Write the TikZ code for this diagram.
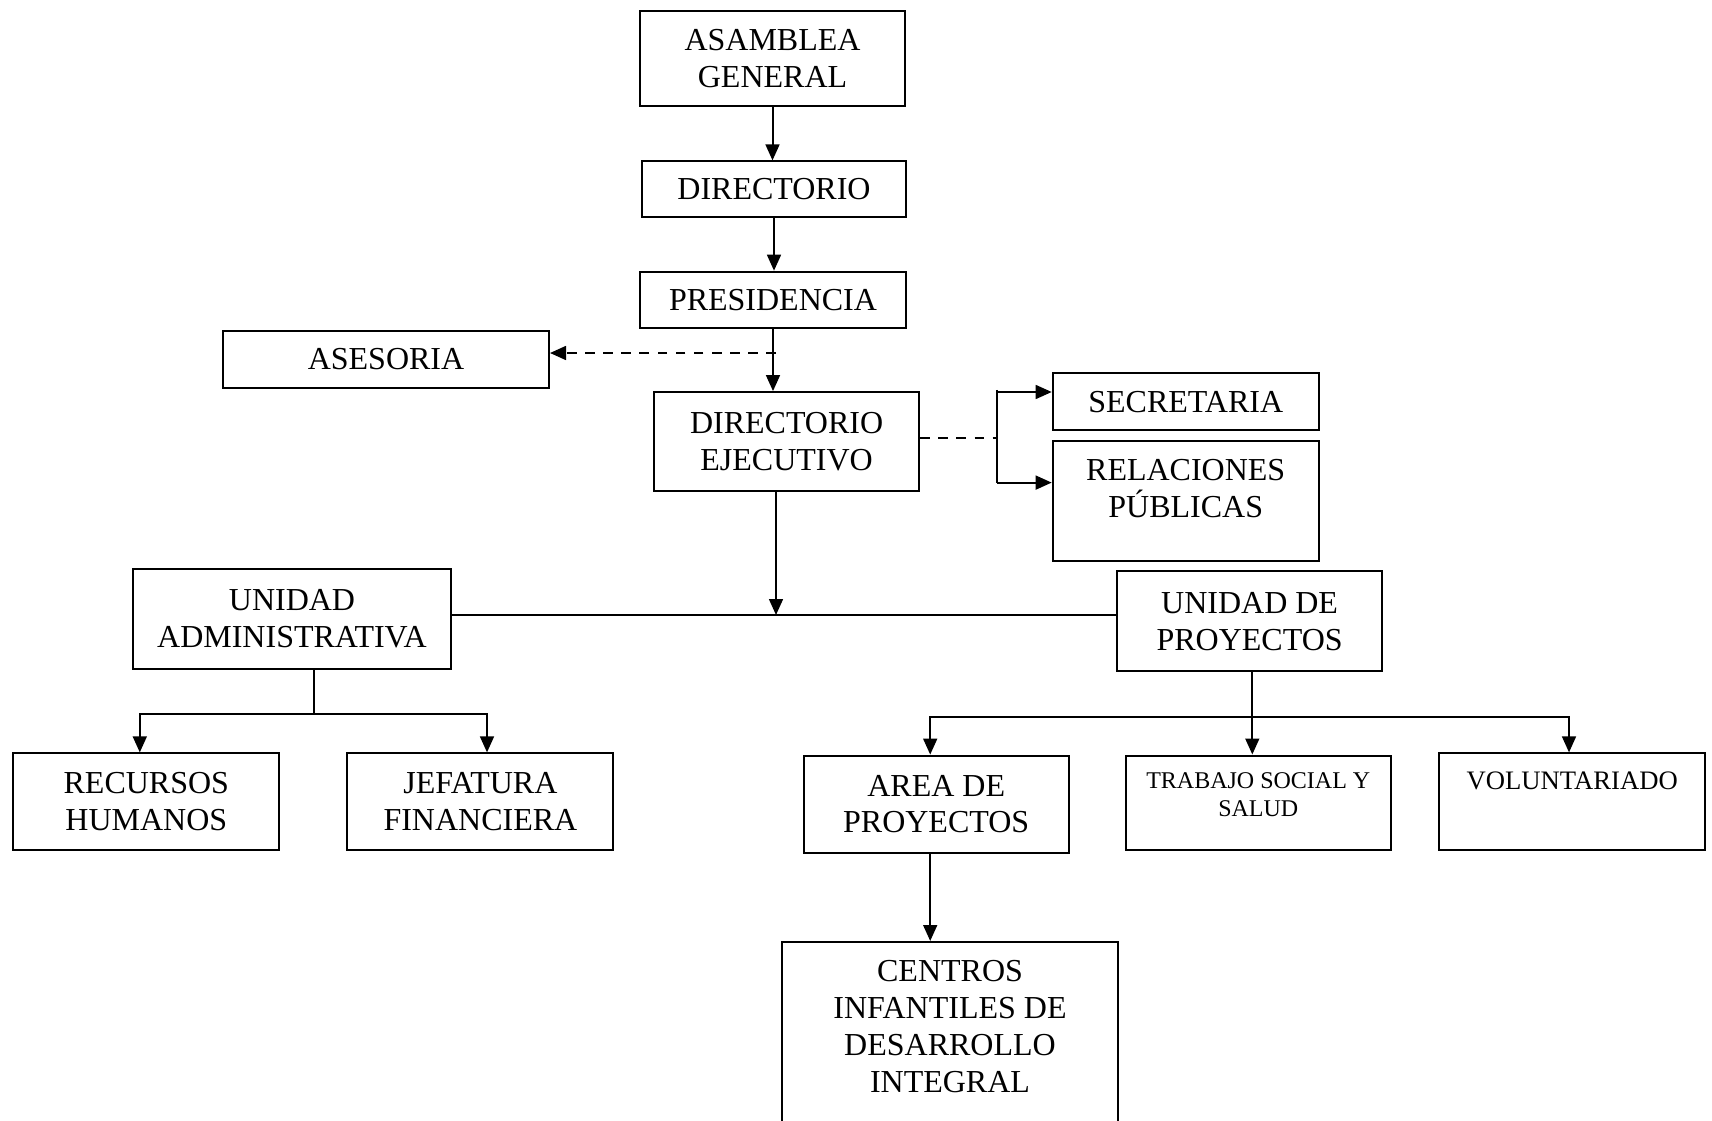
\documentclass[tikz,border=0pt]{standalone}
\usepackage{fontspec}
\setmainfont{Liberation Serif}
\usetikzlibrary{positioning,arrows.meta}
\newcommand{\px}{0.375pt}
\tikzset{
  caja/.style 2 args={draw, line width=0.75pt, align=center, inner sep=0pt,
    minimum width=#1*\px, minimum height=#2*\px, font=\fontsize{12}{13.8}\selectfont},
  texto/.style={align=center, inner sep=0pt, font=\fontsize{12}{13.8}\selectfont},
  textochico/.style={align=center, inner sep=0pt, font=\fontsize{9}{10.4}\selectfont},
  flecha/.style={-{Stealth[length=6pt,width=5.2pt,inset=0pt]}, line width=0.75pt},
  linea/.style={line width=0.75pt},
  rayas/.style={line width=0.75pt, dash pattern=on 3.6pt off 3.2pt}
}

\begin{document}
\begin{tikzpicture}[x=\px, y=-\px]
\path[use as bounding box, clip] (0,0) rectangle (1712,1120);

% direccion
\node[caja={265}{95}] (ag) at (772.5,58.4) {ASAMBLEA\\GENERAL};
\node[caja={264}{56}] (dir) at (774,189.4) {DIRECTORIO};
\node[caja={266}{56}] (pres) at (773,299.7) {PRESIDENCIA};
\node[caja={326}{57}] (ase) at (386,359.2) {ASESORIA};
\node[caja={265}{99}] (de) at (786.6,441.6) {DIRECTORIO\\EJECUTIVO};
\node[caja={266}{57}] (sec) at (1185.7,401.8) {SECRETARIA};
\node[caja={266}{120}] (rp) at (1185.7,501) {};
\node[texto, below=7.1pt of rp.north] (rptxt) {RELACIONES\\PÚBLICAS};

% unidades
\node[caja={318}{100}] (ua) at (292,619) {UNIDAD\\ADMINISTRATIVA};
\node[caja={265}{100}] (up) at (1249.6,621.2) {UNIDAD DE\\PROYECTOS};
\node[caja={266}{97}] (rh) at (146.3,801.9) {RECURSOS\\HUMANOS};
\node[caja={266}{97}] (jf) at (480.4,801.9) {JEFATURA\\FINANCIERA};
\node[caja={265}{97}] (ap) at (936.2,804.1) {AREA DE\\PROYECTOS};
\node[caja={265}{94}] (ts) at (1258.3,802.5) {};
\node[textochico, below=6.6pt of ts.north] (tstxt) {TRABAJO SOCIAL Y\\SALUD};
\node[caja={266}{97}] (vol) at (1572.2,801.9) {};
\node[textochico, font=\fontsize{10}{11.5}\selectfont, below=7.2pt of vol.north] (voltxt) {VOLUNTARIADO};
\node[caja={336}{260}] (cidi) at (950,1072) {};
\node[texto, below=7.1pt of cidi.north] (cidtxt) {CENTROS\\INFANTILES DE\\DESARROLLO\\INTEGRAL};

% puntos de union
\coordinate (pa) at (776,353);
\coordinate (ll) at (997,437.8);
\coordinate (ls) at (997,392);
\coordinate (lr) at (997,482.6);
\coordinate (cruce) at (776,615);
\coordinate (ra) at (314.4,714);
\coordinate (rp2) at (1252.3,717.3);

\draw[flecha] (ag.south) -- (ag.south |- dir.north);
\draw[flecha] (dir.south) -- (dir.south |- pres.north);
\draw[flecha] (pres.south) -- (pres.south |- de.north);
\draw[rayas, flecha] (pa) -- (pa -| ase.east);
\draw[rayas] (de.east |- ll) -- (ll);
\draw[linea] (997,389.8) -- (lr);
\draw[flecha] (ls) -- (ls -| sec.west);
\draw[flecha] (lr) -- (lr -| rp.west);
\draw[flecha] (cruce |- de.south) -- (cruce);
\draw[linea] (cruce -| ua.east) -- (cruce -| up.west);

\draw[linea] (ra |- ua.south) -- (ra);
\draw[flecha] (ra) -| (139.8,0 |- rh.north);
\draw[flecha] (ra) -| (487,0 |- jf.north);

\draw[flecha] (rp2 |- up.south) -- (rp2 |- ts.north);
\draw[flecha] (rp2) -| (930.2,0 |- ap.north);
\draw[flecha] (rp2) -| (1569,0 |- vol.north);
\draw[flecha] (930.2,0 |- ap.south) -- (930.2,0 |- cidi.north);
\end{tikzpicture}
\end{document}
